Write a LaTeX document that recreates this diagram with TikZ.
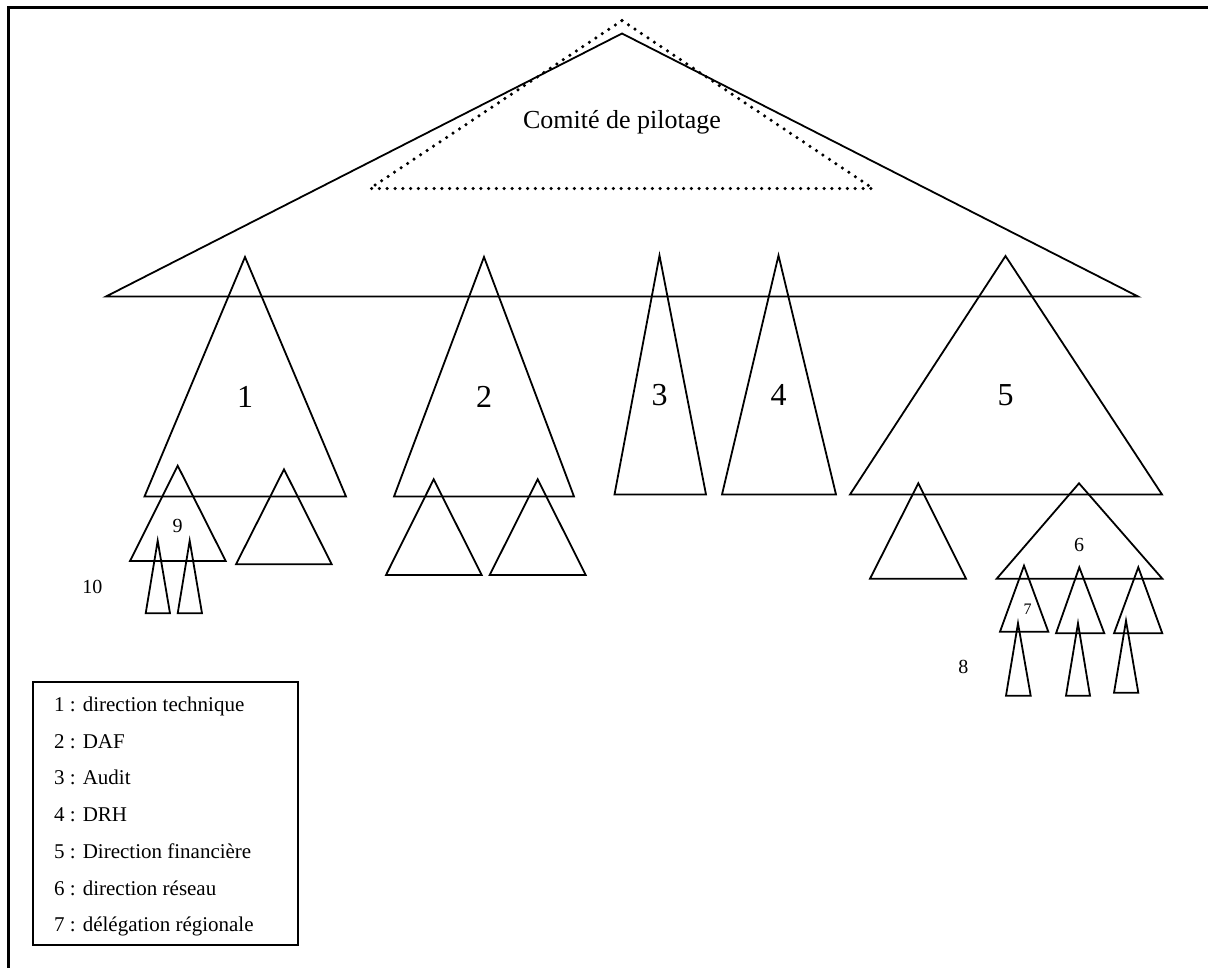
\documentclass[tikz,border=0pt]{standalone}
\usepackage{fontspec}
\setmainfont{Liberation Serif}
\begin{document}
\begin{tikzpicture}[x=1pt,y=-1pt,
  orgtri/.style={draw=black,line width=1.8pt,line join=miter},
  dotline/.style={draw=black,line width=3.5pt,line cap=round,dash pattern=on 0pt off 7.8pt},
  framestyle/.style={draw=black,line width=2.8pt},
  legendbox/.style={draw=black,line width=1.8pt},
  bignum/.style={inner sep=0pt,font=\fontsize{32}{36}\selectfont},
  midnum/.style={inner sep=0pt,font=\fontsize{20}{24}\selectfont},
  tinynum/.style={inner sep=0pt,font=\fontsize{16}{18}\selectfont},
  titletext/.style={inner sep=0pt,anchor=base,font=\fontsize{26}{30}\selectfont},
  legendtext/.style={inner sep=0pt,anchor=base west,font=\fontsize{21}{25}\selectfont}]
\useasboundingbox (0,0) rectangle (1208,967);

% page frame (top and left edges)
\draw[framestyle] (8.7,968) -- (8.7,7.5) -- (1210,7.5);

% steering committee
\draw[orgtri] (622,33.5) -- (106,296.5) -- (1138,296.5) -- cycle;
\draw[dotline] (622,20.5) -- (873,188.5) -- (370,188.5) -- cycle;
\node[titletext] (comite) at (622,128.5) {Comité de pilotage};

% directions 1 to 5
\draw[orgtri] (245,257) -- (144.5,496.5) -- (346,496.5) -- cycle;
\draw[orgtri] (484,257) -- (394,496.5) -- (574,496.5) -- cycle;
\draw[orgtri] (659.5,255.5) -- (614.5,494.5) -- (706,494.5) -- cycle;
\draw[orgtri] (778.5,255.5) -- (722,494.5) -- (836,494.5) -- cycle;
\draw[orgtri] (1005.5,256) -- (850,494.5) -- (1162,494.5) -- cycle;
\node[bignum] (n1) at (245,397) {1};
\node[bignum] (n2) at (484,397) {2};
\node[bignum] (n3) at (659.5,395) {3};
\node[bignum] (n4) at (778.5,395) {4};
\node[bignum] (n5) at (1005.5,395) {5};

% sub-units of direction 1
\draw[orgtri] (177.7,465.7) -- (130,561) -- (225.7,561) -- cycle;
\draw[orgtri] (284,469.3) -- (236,564.3) -- (331.7,564.3) -- cycle;
\draw[orgtri] (157.7,540.7) -- (145.7,613.3) -- (170,613.3) -- cycle;
\draw[orgtri] (189.7,540.7) -- (177.7,613.3) -- (202,613.3) -- cycle;
\node[midnum] (n9) at (177.5,526) {9};
\node[midnum] (n10) at (92.3,586.7) {10};

% sub-units of direction 2
\draw[orgtri] (433.7,479.3) -- (386,575) -- (481.7,575) -- cycle;
\draw[orgtri] (537.7,479.3) -- (489.7,575) -- (585.7,575) -- cycle;

% sub-units of direction 5
\draw[orgtri] (918.3,483.3) -- (870,578.7) -- (966,578.7) -- cycle;
\draw[orgtri] (1079,483.3) -- (996.7,578.7) -- (1162.3,578.7) -- cycle;
\draw[orgtri] (1024,565.7) -- (1000,631.7) -- (1048.3,631.7) -- cycle;
\draw[orgtri] (1079.3,567.3) -- (1056,633.3) -- (1104.3,633.3) -- cycle;
\draw[orgtri] (1138.3,567.3) -- (1114,633.3) -- (1162.3,633.3) -- cycle;
\draw[orgtri] (1018,623.3) -- (1006,695.7) -- (1030.7,695.7) -- cycle;
\draw[orgtri] (1078,623.3) -- (1066,695.7) -- (1090,695.7) -- cycle;
\draw[orgtri] (1126,620.7) -- (1114,692.7) -- (1138.3,692.7) -- cycle;
\node[midnum] (n6) at (1079,545) {6};
\node[tinynum] (n7) at (1027.7,609.3) {7};
\node[midnum] (n8) at (963.3,667.3) {8};

% legend
\draw[legendbox] (33.3,681.7) rectangle (298.3,945.3);
\node[legendtext] (l1) at (54,711.5) {1 : direction technique};
\node[legendtext] (l2) at (54,748.2) {2 : DAF};
\node[legendtext] (l3) at (54,784.9) {3 : Audit};
\node[legendtext] (l4) at (54,821.6) {4 : DRH};
\node[legendtext] (l5) at (54,858.3) {5 : Direction financière};
\node[legendtext] (l6) at (54,895) {6 : direction réseau};
\node[legendtext] (l7) at (54,931.7) {7 : délégation régionale};
\end{tikzpicture}
\end{document}
